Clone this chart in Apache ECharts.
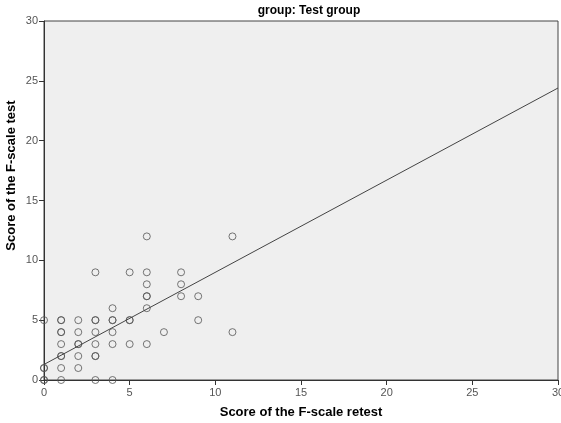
<!DOCTYPE html>
<html><head><meta charset="utf-8">
<script src="https://cdn.jsdelivr.net/npm/echarts@6/dist/echarts.min.js"></script>
<style>html,body{margin:0;padding:0;background:#fff}#c{width:561px;height:423px}</style>
</head><body><div id="c"></div>
<script>
// Retest scores (x) and test scores (y); duplicates appear as darker circles
const retestScores = [0,0,0,0,0,
  1,1,1,1,1,1,1,1,1,
  2,2,2,2,2,2,
  3,3,3,3,3,3,3,3,
  4,4,4,4,4,4,
  5,5,5,5,
  6,6,6,6,6,6,6,
  7,8,8,8,9,9,11,11];
const testScores = [0,0,1,1,5,
  0,1,2,2,3,4,4,5,5,
  1,2,3,3,4,5,
  0,2,2,3,4,5,5,9,
  0,3,4,5,5,6,
  3,5,5,9,
  3,6,7,7,8,9,12,
  4,7,8,9,5,7,4,12];
const fitX = [0, 30];
const fitY = [1.3, 24.4];
const xTicks = [0,5,10,15,20,25,30];
const yTicks = [0,5,10,15,20,25,30];

const chart = echarts.init(document.getElementById('c'));
const axisFont = {fontFamily:'Arial, "Liberation Sans", sans-serif', fontSize:11, color:'#555'};
chart.setOption({
  animation:false,
  backgroundColor:'#ffffff',
  title:{text:'group: Test group', left:304, top:0, textAlign:'center',
    textStyle:{fontFamily:'Arial, "Liberation Sans", sans-serif', fontSize:12, fontWeight:'bold', color:'#000'}},
  grid:{left:44, right:3, top:21, bottom:43, containLabel:false, outerBoundsMode:'none',
    show:true, backgroundColor:'#efefef', borderColor:'#444', borderWidth:1},
  xAxis:{type:'value', min:xTicks[0], max:xTicks[xTicks.length-1], interval:5,
    name:'Score of the F-scale retest', nameLocation:'middle', nameGap:26, nameMoveOverlap:false,
    nameTextStyle:{fontFamily:'Arial, "Liberation Sans", sans-serif', fontSize:13, fontWeight:'bold', color:'#000'},
    axisLine:{lineStyle:{color:'#333', width:1}}, axisTick:{show:true, inside:false, length:5, lineStyle:{color:'#333'}},
    axisLabel:Object.assign({margin:7}, axisFont), splitLine:{show:false}},
  yAxis:{type:'value', min:yTicks[0], max:yTicks[yTicks.length-1], interval:5,
    name:'Score of the F-scale test', nameLocation:'middle', nameGap:26, nameRotate:90, nameMoveOverlap:false,
    nameTextStyle:{fontFamily:'Arial, "Liberation Sans", sans-serif', fontSize:13, fontWeight:'bold', color:'#000', padding:[0,0,0,50]},
    axisLine:{show:true, lineStyle:{color:'#333', width:1}}, axisTick:{show:true, inside:false, length:5, lineStyle:{color:'#333'}},
    axisLabel:Object.assign({margin:6}, axisFont), splitLine:{show:false}},
  series:[
    {type:'scatter', clip:false, symbol:'circle', symbolSize:7,
      data:retestScores.map((x,i)=>[x, testScores[i]]),
      itemStyle:{color:'rgba(0,0,0,0)', borderColor:'#555', borderWidth:1}},
    {type:'line', data:fitX.map((x,i)=>[x, fitY[i]]), showSymbol:false, symbol:'none',
      lineStyle:{color:'#444', width:1}}
  ]
});
</script></body></html>
